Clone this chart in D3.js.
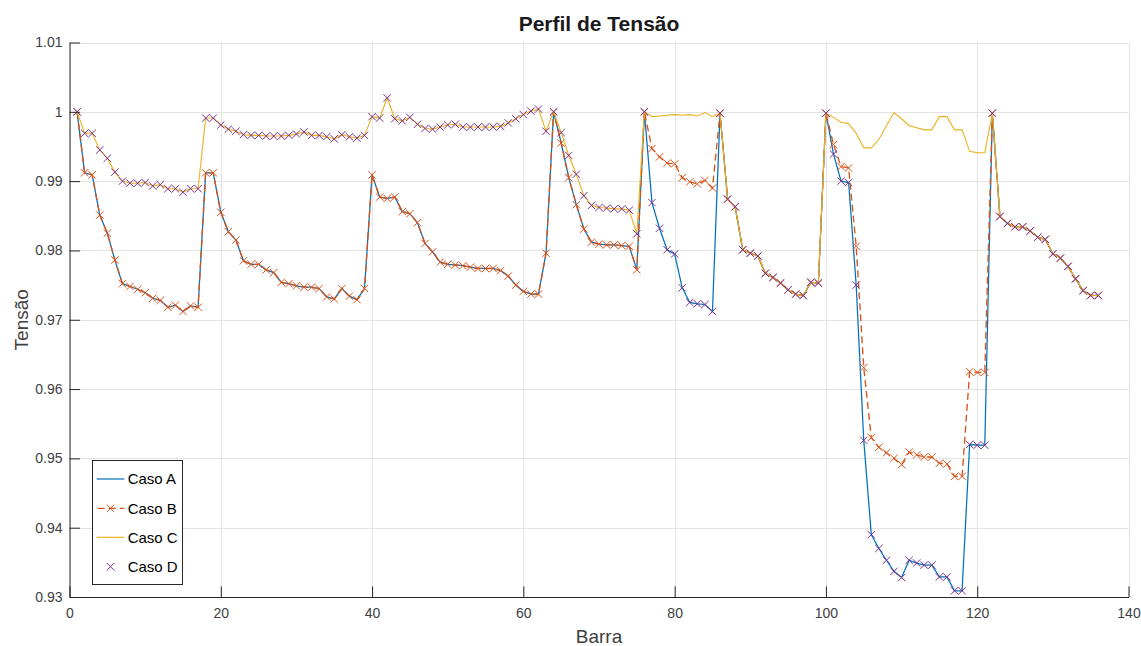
<!DOCTYPE html>
<html>
<head>
<meta charset="utf-8">
<script src="https://cdn.jsdelivr.net/npm/d3@7"></script>
<style>
  html, body { margin: 0; padding: 0; background: #fff; }
  svg { display: block; font-family: "Liberation Sans", Arial, Helvetica, sans-serif; }
</style>
</head>
<body>
<svg id="chart" width="1141" height="646"></svg>
<script>
// ---- data ----
const bars = d3.range(1, 137);

const caseA = [
  1.0000,0.9912,0.9909,0.9851,0.9825,0.9786,0.9752,0.9748,0.9744,0.9739,
  0.9731,0.9728,0.9718,0.9721,0.9712,0.9720,0.9718,0.9912,0.9912,0.9855,
  0.9827,0.9815,0.9785,0.9780,0.9780,0.9772,0.9768,0.9754,0.9752,0.9749,
  0.9747,0.9747,0.9745,0.9733,0.9730,0.9745,0.9734,0.9729,0.9745,0.9909,
  0.9877,0.9875,0.9877,0.9856,0.9853,0.9840,0.9810,0.9798,0.9783,0.9780,
  0.9779,0.9778,0.9776,0.9774,0.9774,0.9774,0.9771,0.9763,0.9750,0.9741,
  0.9737,0.9737,0.9796,1.0000,0.9955,0.9905,0.9866,0.9831,0.9812,0.9809,
  0.9808,0.9808,0.9807,0.9806,0.9772,
  1.0000,0.9869,0.9832,0.9801,0.9795,0.9746,0.9725,0.9723,0.9722,0.9712,0.9998,
  0.9874,0.9863,0.9801,0.9796,0.9792,0.9767,0.9761,0.9753,0.9743,0.9737,0.9735,0.9754,0.9753,0.9998,
  0.9939,0.9900,0.9898,0.9750,0.9526,0.9390,0.9370,0.9353,0.9337,0.9328,0.9353,
  0.9349,0.9346,0.9346,0.9329,0.9329,0.9309,0.9309,0.9520,0.9519,0.9519,
  0.9998,0.9849,0.9839,0.9834,0.9834,0.9828,0.9819,0.9816,0.9795,0.9789,0.9777,0.9759,0.9742,0.9735,0.9735
];

const caseB = [
  1.0000,0.9912,0.9909,0.9851,0.9825,0.9786,0.9752,0.9748,0.9744,0.9739,
  0.9731,0.9728,0.9718,0.9721,0.9712,0.9720,0.9718,0.9912,0.9912,0.9855,
  0.9827,0.9815,0.9785,0.9780,0.9780,0.9772,0.9768,0.9754,0.9752,0.9749,
  0.9747,0.9747,0.9745,0.9733,0.9730,0.9745,0.9734,0.9729,0.9745,0.9909,
  0.9877,0.9875,0.9877,0.9856,0.9853,0.9840,0.9810,0.9798,0.9783,0.9780,
  0.9779,0.9778,0.9776,0.9774,0.9774,0.9774,0.9771,0.9763,0.9750,0.9741,
  0.9737,0.9737,0.9796,1.0000,0.9955,0.9905,0.9866,0.9831,0.9812,0.9809,
  0.9808,0.9808,0.9807,0.9806,0.9772,
  1.0000,0.9947,0.9935,0.9926,0.9925,0.9905,0.9899,0.9896,0.9901,0.9890,0.9998,
  0.9874,0.9863,0.9801,0.9796,0.9792,0.9767,0.9761,0.9753,0.9743,0.9737,0.9735,0.9754,0.9753,0.9998,
  0.9953,0.9921,0.9919,0.9806,0.9631,0.9530,0.9516,0.9508,0.9500,0.9491,0.9509,
  0.9505,0.9502,0.9502,0.9493,0.9492,0.9474,0.9474,0.9625,0.9624,0.9624,
  0.9998,0.9849,0.9839,0.9834,0.9834,0.9828,0.9819,0.9816,0.9795,0.9789,0.9777,0.9759,0.9742,0.9735,0.9735
];

const caseC = [
  1.0000,0.9969,0.9969,0.9945,0.9933,0.9913,0.9900,0.9897,0.9897,0.9898,
  0.9893,0.9895,0.9889,0.9889,0.9884,0.9889,0.9889,0.9991,0.9991,0.9981,
  0.9975,0.9972,0.9967,0.9966,0.9966,0.9965,0.9965,0.9965,0.9966,0.9968,
  0.9971,0.9966,0.9966,0.9964,0.9961,0.9967,0.9964,0.9962,0.9966,0.9993,
  0.9991,1.0020,0.9990,0.9987,0.9992,0.9982,0.9976,0.9975,0.9978,0.9981,
  0.9982,0.9978,0.9978,0.9978,0.9978,0.9978,0.9979,0.9984,0.9990,0.9996,
  1.0001,1.0004,0.9972,1.0000,0.9970,0.9937,0.9910,0.9879,0.9865,0.9862,
  0.9861,0.9860,0.9860,0.9858,0.9824,
  1.0000,0.9993,0.9994,0.9995,0.9996,0.9995,0.9996,0.9994,0.9999,0.9993,0.9998,
  0.9874,0.9863,0.9801,0.9796,0.9792,0.9767,0.9761,0.9753,0.9743,0.9737,0.9735,0.9754,0.9753,0.9998,
  0.9992,0.9985,0.9983,0.9969,0.9948,0.9948,0.9960,0.9980,0.9999,0.9990,0.9980,
  0.9977,0.9974,0.9974,0.9993,0.9993,0.9974,0.9974,0.9943,0.9941,0.9941,
  0.9998,0.9849,0.9839,0.9834,0.9834,0.9828,0.9819,0.9816,0.9795,0.9789,0.9777,0.9759,0.9742,0.9735,0.9735
];

const caseD = [
  1.0000,0.9969,0.9969,0.9945,0.9933,0.9913,0.9900,0.9897,0.9897,0.9898,
  0.9893,0.9895,0.9889,0.9889,0.9884,0.9889,0.9889,0.9991,0.9991,0.9981,
  0.9975,0.9972,0.9967,0.9966,0.9966,0.9965,0.9965,0.9965,0.9966,0.9968,
  0.9971,0.9966,0.9966,0.9964,0.9961,0.9967,0.9964,0.9962,0.9966,0.9993,
  0.9991,1.0020,0.9990,0.9987,0.9992,0.9982,0.9976,0.9975,0.9978,0.9981,
  0.9982,0.9978,0.9978,0.9978,0.9978,0.9978,0.9979,0.9984,0.9990,0.9996,
  1.0001,1.0004,0.9972,1.0000,0.9970,0.9937,0.9910,0.9879,0.9865,0.9862,
  0.9861,0.9860,0.9860,0.9858,0.9824,
  1.0000,0.9869,0.9832,0.9801,0.9795,0.9746,0.9725,0.9723,0.9722,0.9712,0.9998,
  0.9874,0.9863,0.9801,0.9796,0.9792,0.9767,0.9761,0.9753,0.9743,0.9737,0.9735,0.9754,0.9753,0.9998,
  0.9939,0.9900,0.9898,0.9750,0.9526,0.9390,0.9370,0.9353,0.9337,0.9328,0.9353,
  0.9349,0.9346,0.9346,0.9329,0.9329,0.9309,0.9309,0.9520,0.9519,0.9519,
  0.9998,0.9849,0.9839,0.9834,0.9834,0.9828,0.9819,0.9816,0.9795,0.9789,0.9777,0.9759,0.9742,0.9735,0.9735
];

const seriesNames = ["Caso A", "Caso B", "Caso C", "Caso D"];
const xTicks = [0, 20, 40, 60, 80, 100, 120, 140];
const yTicks = [0.93, 0.94, 0.95, 0.96, 0.97, 0.98, 0.99, 1.00, 1.01];
const yTickLabels = ["0.93", "0.94", "0.95", "0.96", "0.97", "0.98", "0.99", "1", "1.01"];
const titleText = "Perfil de Tensão";
const xLabelText = "Barra";
const yLabelText = "Tensão";

// ---- drawing ----
const svg = d3.select("#chart");
const L = 69.5, R = 1128.5, T = 42.5, B = 597;
const x = d3.scaleLinear().domain([0, 140]).range([L, R]);
const y = d3.scaleLinear().domain([0.93, 1.01]).range([B, T]);
const axisCol = "#262626";
const textCol = "#404040";
const colA = "#0072BD", colB = "#D95319", colC = "#EDB120", colD = "#7E2F8E";

// grid
const grid = svg.append("g").attr("stroke", "#e4e4e4").attr("stroke-width", 1);
grid.selectAll(".gx").data(xTicks).join("line")
  .attr("x1", d => Math.round(x(d)) + 0.5).attr("x2", d => Math.round(x(d)) + 0.5)
  .attr("y1", T).attr("y2", B);
grid.selectAll(".gy").data(yTicks).join("line")
  .attr("x1", L).attr("x2", R)
  .attr("y1", d => Math.round(y(d)) + 0.5).attr("y2", d => Math.round(y(d)) + 0.5);

// series
const plot = svg.append("g");
const line = d3.line().x((d, i) => x(bars[i])).y(d => y(d));
const cross = "M-3.7,-3.7L3.7,3.7M-3.7,3.7L3.7,-3.7";

plot.append("path").datum(caseA).attr("d", line)
  .attr("fill", "none").attr("stroke", colA).attr("stroke-width", 1.25);

plot.append("path").datum(caseB).attr("d", line)
  .attr("fill", "none").attr("stroke", colB).attr("stroke-width", 1.35)
  .attr("stroke-dasharray", "7,4");
plot.append("g").selectAll("path").data(caseB).join("path")
  .attr("transform", (d, i) => `translate(${x(bars[i])},${y(d)})`)
  .attr("d", cross).attr("fill", "none").attr("stroke", colB).attr("stroke-width", 1);

plot.append("path").datum(caseC).attr("d", line)
  .attr("fill", "none").attr("stroke", colC).attr("stroke-width", 1.1);

plot.append("g").selectAll("path").data(caseD).join("path")
  .attr("transform", (d, i) => `translate(${x(bars[i])},${y(d)})`)
  .attr("d", cross).attr("fill", "none").attr("stroke", colD).attr("stroke-width", 1);

// axes
const xAxis = d3.axisBottom(x).tickValues(xTicks).tickSizeInner(-10.6).tickSizeOuter(0)
  .tickPadding(11).tickFormat(d3.format("d"));
const gx = svg.append("g").attr("transform", `translate(0,${B})`).call(xAxis);
const yAxis = d3.axisLeft(y).tickValues(yTicks).tickSizeInner(-10.6).tickSizeOuter(0)
  .tickPadding(7).tickFormat((d, i) => yTickLabels[i]);
const gy = svg.append("g").attr("transform", `translate(${L},0)`).call(yAxis);
[gx, gy].forEach(g => {
  g.select(".domain").attr("stroke", axisCol).attr("stroke-width", 1);
  g.selectAll(".tick line").attr("stroke", axisCol).attr("stroke-width", 1);
  g.selectAll(".tick text").attr("fill", textCol)
    .style("font-size", "14px").style("font-family", '"Liberation Sans", Arial, Helvetica, sans-serif');
});

// title and labels
svg.append("text").attr("x", (L + R) / 2).attr("y", 31).attr("text-anchor", "middle")
  .style("font-size", "21px").style("font-weight", "bold").attr("fill", "#1a1a1a")
  .text(titleText);
svg.append("text").attr("x", (L + R) / 2).attr("y", 643).attr("text-anchor", "middle")
  .style("font-size", "19px").attr("fill", textCol).text(xLabelText);
svg.append("text").attr("transform", `translate(28,${(T + B) / 2}) rotate(-90)`)
  .attr("text-anchor", "middle").style("font-size", "19px").attr("fill", textCol)
  .text(yLabelText);

// legend
const lg = svg.append("g");
lg.append("rect").attr("x", 92.5).attr("y", 460.5).attr("width", 90).attr("height", 124)
  .attr("fill", "#fff").attr("stroke", axisCol).attr("stroke-width", 1);
const ly = [479, 508.3, 537.3, 566.7];
const lcols = [colA, colB, colC, colD];
seriesNames.forEach((name, i) => {
  const cy = ly[i];
  if (i < 3) {
    const ln = lg.append("line").attr("x1", 96.7).attr("x2", 124.3).attr("y1", cy).attr("y2", cy)
      .attr("stroke", lcols[i]).attr("stroke-width", i === 1 ? 1.3 : 1.2);
    if (i === 1) ln.attr("stroke-dasharray", "7,4").attr("stroke-dashoffset", -1);
  }
  if (i === 1 || i === 3) {
    lg.append("path").attr("transform", `translate(110.5,${cy})`).attr("d", cross)
      .attr("fill", "none").attr("stroke", lcols[i]).attr("stroke-width", 1);
  }
  lg.append("text").attr("x", 127.7).attr("y", cy).attr("dy", "0.36em")
    .style("font-size", "15px").attr("fill", "#000").text(name);
});
</script>
</body>
</html>
